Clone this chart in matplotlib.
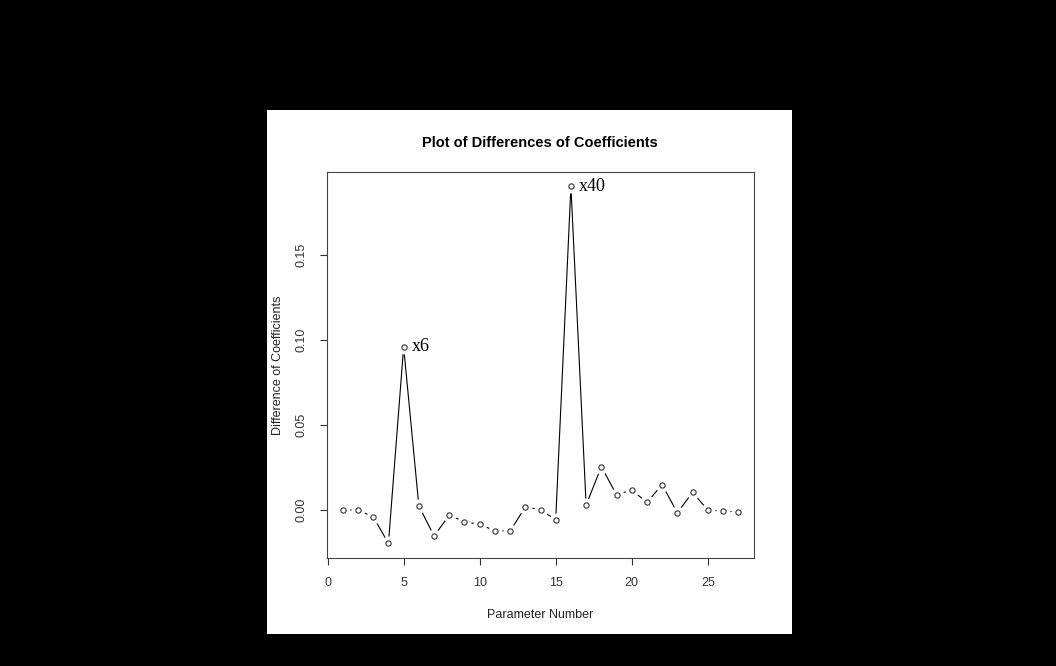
import matplotlib.pyplot as plt
from matplotlib.patches import Rectangle

param = list(range(1, 28))
diff = [0.000, 0.000, -0.004, -0.0196, 0.0959, 0.0025, -0.0153, -0.003, -0.0069,
        -0.0084, -0.0122, -0.0124, 0.0018, 0.0002, -0.0057, 0.1904, 0.0029, 0.0255,
        0.009, 0.0118, 0.0045, 0.0149, -0.0016, 0.0104, 0.000, -0.0006, -0.0012]
labelled = {5: "x6", 16: "x40"}
xticks = [0, 5, 10, 15, 20, 25]
yticks = [0.00, 0.05, 0.10, 0.15]

W, H = 1056, 666
fig = plt.figure(figsize=(W / 100, H / 100), dpi=100)
fig.patch.set_facecolor("black")

# white panel like the pasted R device
fig.add_artist(Rectangle((267 / W, 1 - 634 / H), 525 / W, 524 / H,
                         transform=fig.transFigure, facecolor="white",
                         edgecolor="none", zorder=0))

ax = fig.add_axes([327 / W, 1 - 558 / H, 427 / W, 386 / H])
ax.set_facecolor("white")

# type="b": line, white gap around each point, open circle
ax.plot(param, diff, color="black", lw=0.8, zorder=2)
ax.plot(param, diff, "o", ms=10, mfc="white", mec="none", zorder=3)
ax.plot(param, diff, "o", ms=3.8, mfc="white", mec="#333333", mew=0.8, zorder=4)

for i, lab in labelled.items():
    ax.annotate(lab, (i, diff[i - 1]), xytext=(6, 0), textcoords="offset points",
                va="center", ha="left", fontsize=13, family="Liberation Serif")

ax.set_xlim(-0.04, 28.04)
ax.set_ylim(-0.0282, 0.1988)
ax.set_xticks(xticks)
ax.set_xticklabels([str(t) for t in xticks])
ax.set_yticks(yticks)
ax.set_yticklabels(["%.2f" % t for t in yticks], rotation=90, va="center")
ax.tick_params(direction="out", length=5, width=0.8, colors="#333333",
               labelsize=9, pad=9)
for lbl in ax.get_xticklabels() + ax.get_yticklabels():
    lbl.set_family("Liberation Sans")
for s in ax.spines.values():
    s.set_color("#444444")
    s.set_linewidth(0.8)

ax.set_xlabel("Parameter Number", fontsize=9, family="Liberation Sans",
              color="#222222", labelpad=14)
ax.set_ylabel("Difference of Coefficients", fontsize=9, family="Liberation Sans",
              color="#222222", labelpad=8)
fig.text(540 / W, 1 - 143 / H, "Plot of Differences of Coefficients",
         ha="center", va="center", fontsize=10.5, fontweight="bold",
         family="Liberation Sans")

fig.savefig("out.png", dpi=100, facecolor="black")
